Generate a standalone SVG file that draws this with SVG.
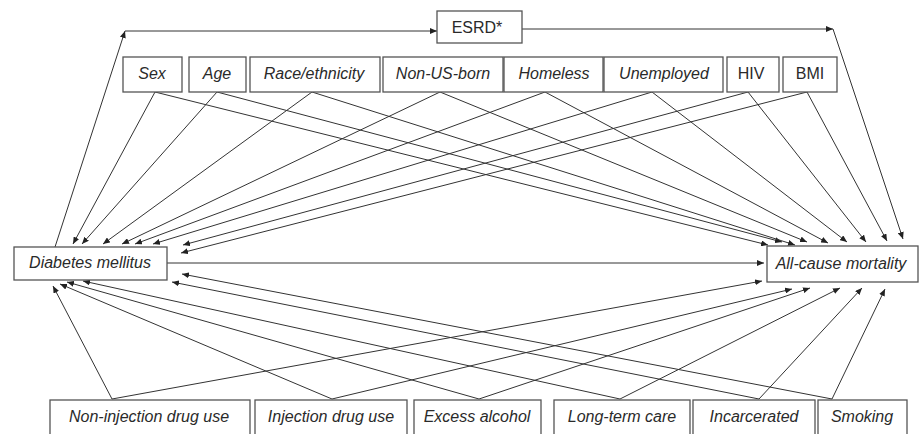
<svg xmlns="http://www.w3.org/2000/svg" width="923" height="434" viewBox="0 0 923 434">
<style>
.box{fill:#fff;stroke:#555;stroke-width:1.3}
.t{font-family:"Liberation Sans",Arial,sans-serif;font-size:16px;fill:#2a2a2a;text-anchor:middle}
.i{font-style:italic}
.c line{stroke:#333;stroke-width:1;marker-end:url(#ah)}
</style>
<defs>
<marker id="ah" markerUnits="userSpaceOnUse" markerWidth="8" markerHeight="6" refX="7" refY="3" orient="auto">
<path d="M0,0 L7,3 L0,6 z" fill="#222"/>
</marker>
</defs>
<rect width="923" height="434" fill="#fff"/>
<g class="c" id="connectors">
<line x1="55" y1="247" x2="125" y2="31"/>
<line x1="125" y1="31" x2="437" y2="31"/>
<line x1="522" y1="29" x2="833" y2="29"/>
<line x1="833" y1="29" x2="903" y2="239"/>
<line x1="155" y1="92" x2="73" y2="244"/>
<line x1="217" y1="92" x2="82" y2="244"/>
<line x1="312" y1="92" x2="103" y2="244"/>
<line x1="440" y1="92" x2="122" y2="244"/>
<line x1="545" y1="92" x2="135" y2="244"/>
<line x1="652" y1="92" x2="153" y2="244"/>
<line x1="748" y1="92" x2="183" y2="245"/>
<line x1="807" y1="92" x2="181" y2="253"/>
<line x1="155" y1="92" x2="768" y2="245"/>
<line x1="217" y1="92" x2="782" y2="242"/>
<line x1="312" y1="92" x2="795" y2="245"/>
<line x1="440" y1="92" x2="807" y2="242"/>
<line x1="545" y1="92" x2="828" y2="243"/>
<line x1="652" y1="92" x2="847" y2="242"/>
<line x1="748" y1="92" x2="866" y2="242"/>
<line x1="807" y1="92" x2="887" y2="241"/>
<line x1="167" y1="263" x2="764" y2="263"/>
<line x1="112" y1="399" x2="53" y2="286"/>
<line x1="332" y1="399" x2="60" y2="284"/>
<line x1="479" y1="399" x2="67" y2="282"/>
<line x1="620" y1="399" x2="83" y2="281"/>
<line x1="759" y1="399" x2="172" y2="282"/>
<line x1="832" y1="399" x2="182" y2="274"/>
<line x1="112" y1="399" x2="762" y2="281"/>
<line x1="332" y1="399" x2="792" y2="289"/>
<line x1="479" y1="399" x2="810" y2="288"/>
<line x1="620" y1="399" x2="840" y2="288"/>
<line x1="759" y1="399" x2="862" y2="288"/>
<line x1="832" y1="399" x2="885" y2="289"/>
</g>
<g id="esrd"><rect class="box" x="437" y="11" width="85" height="32"/><text class="t" x="477" y="33">ESRD*</text></g>
<g id="sex"><rect class="box" x="123" y="57" width="59" height="35"/><text class="t i" x="152" y="79">Sex</text></g>
<g id="age"><rect class="box" x="189" y="57" width="57" height="35"/><text class="t i" x="217" y="79">Age</text></g>
<g id="race"><rect class="box" x="250" y="57" width="130" height="35"/><text class="t i" x="314" y="79">Race/ethnicity</text></g>
<g id="nonus"><rect class="box" x="383" y="57" width="120" height="35"/><text class="t i" x="443" y="79">Non-US-born</text></g>
<g id="homeless"><rect class="box" x="504" y="57" width="99" height="35"/><text class="t i" x="554" y="79">Homeless</text></g>
<g id="unemployed"><rect class="box" x="604" y="57" width="119" height="35"/><text class="t i" x="664" y="79">Unemployed</text></g>
<g id="hiv"><rect class="box" x="727" y="57" width="52" height="35"/><text class="t" x="751" y="79">HIV</text></g>
<g id="bmi"><rect class="box" x="783" y="57" width="54" height="35"/><text class="t" x="810" y="79">BMI</text></g>
<g id="diabetes"><rect class="box" x="14" y="247" width="153" height="33"/><text class="t i" x="90" y="268">Diabetes mellitus</text></g>
<g id="mortality"><rect class="box" x="767" y="246" width="151" height="36"/><text class="t i" x="841" y="269">All-cause mortality</text></g>
<g id="noninj"><rect class="box" x="50" y="400" width="200" height="40"/><text class="t i" x="149" y="422">Non-injection drug use</text></g>
<g id="inj"><rect class="box" x="255" y="400" width="152" height="40"/><text class="t i" x="331" y="422">Injection drug use</text></g>
<g id="alcohol"><rect class="box" x="414" y="400" width="127" height="40"/><text class="t i" x="477" y="422">Excess alcohol</text></g>
<g id="ltc"><rect class="box" x="554" y="400" width="136" height="40"/><text class="t i" x="622" y="422">Long-term care</text></g>
<g id="incarcerated"><rect class="box" x="693" y="400" width="122" height="40"/><text class="t i" x="754" y="422">Incarcerated</text></g>
<g id="smoking"><rect class="box" x="818" y="400" width="89" height="40"/><text class="t i" x="862" y="422">Smoking</text></g>
</svg>
